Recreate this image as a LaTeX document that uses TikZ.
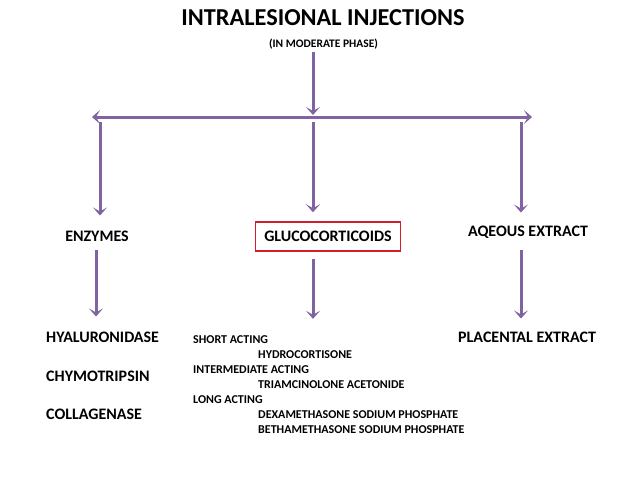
\documentclass[tikz,border=0pt]{standalone}
\usepackage{fontspec}
\setmainfont{Carlito}
\usetikzlibrary{arrows.meta, positioning}
\definecolor{arrowpurple}{RGB}{128,100,162}
\definecolor{boxred}{RGB}{210,30,40}
\tikzstyle{heading} = [font=\fontsize{24.3}{28}\selectfont\bfseries, inner sep=0pt]
\tikzstyle{subhead} = [font=\fontsize{11.5}{13}\selectfont\bfseries, inner sep=0pt]
\tikzstyle{group} = [font=\fontsize{16}{19}\selectfont\bfseries, inner sep=0pt]
\tikzstyle{groupbox} = [group, draw=boxred, line width=1.5pt, minimum width=145pt, minimum height=29pt]
\tikzstyle{agent} = [font=\fontsize{16}{19}\selectfont\bfseries, inner sep=0pt, anchor=west]
\tikzstyle{drug} = [font=\fontsize{12}{14}\selectfont\bfseries, inner sep=0pt, anchor=west]
\tikzstyle{arrow} = [arrowpurple, line width=3pt, -{Stealth[length=8pt, width=14pt, inset=4pt]}]
\tikzstyle{twoway} = [arrowpurple, line width=3pt, {Stealth[length=8pt, width=14pt, inset=4pt]}-{Stealth[length=8pt, width=14pt, inset=4pt]}]

\begin{document}
\begin{tikzpicture}[x=1pt, y=-1pt]
\useasboundingbox (0,0) rectangle (638,479);

\node (title) [heading] at (323,18) {INTRALESIONAL INJECTIONS};
\node (sub) [subhead] at (323.5,44) {(IN MODERATE PHASE)};

\coordinate (split) at (313,117);
\coordinate (lend) at (92,117);
\coordinate (rend) at (532,117);
\coordinate (b1) at (100,122);
\coordinate (b2) at (313,122);
\coordinate (b3) at (521,122);

\node (enz) [group] at (97,236) {ENZYMES};
\node (gluc) [groupbox] at (328,236.5) {GLUCOCORTICOIDS};
\node (aq) [group] at (528,232) {AQEOUS EXTRACT};

\node (hya) [agent] at (46,337) {HYALURONIDASE};
\node (chy) [agent] at (46,376) {CHYMOTRIPSIN};
\node (col) [agent] at (46,414) {COLLAGENASE};
\node (pe) [agent] at (458,337) {PLACENTAL EXTRACT};

\node (sa) [drug] at (193,340) {SHORT ACTING};
\node (hc) [drug] at (258,355) {HYDROCORTISONE};
\node (ia) [drug] at (193,370) {INTERMEDIATE ACTING};
\node (ta) [drug] at (258,385) {TRIAMCINOLONE ACETONIDE};
\node (la) [drug] at (193,400) {LONG ACTING};
\node (dsp) [drug] at (258,415) {DEXAMETHASONE SODIUM PHOSPHATE};
\node (bsp) [drug] at (258,430) {BETHAMETHASONE SODIUM PHOSPHATE};

% main split
\draw [arrow, shorten <=3pt, shorten >=2pt] (sub.south -| split) -- (split);
\draw [twoway] (lend) -- (rend);

% down to the three groups
\draw [arrow, shorten >=15pt] (b1) -- (b1 |- enz.north);
\draw [arrow, shorten >=9pt] (b2) -- (b2 |- gluc.north);
\draw [arrow, shorten >=13pt] (b3) -- (b3 |- aq.north);

% down to the agents
\draw [arrow, shorten <=8pt, shorten >=15pt] ([xshift=-1pt]enz.south) -- ([xshift=-1pt]enz.south |- hya.north);
\draw [arrow, shorten <=7pt, shorten >=17pt] (b2 |- gluc.south) -- (b2 |- sa.north);
\draw [arrow, shorten <=12pt, shorten >=13pt] (b3 |- aq.south) -- (b3 |- pe.north);

\end{tikzpicture}
\end{document}
